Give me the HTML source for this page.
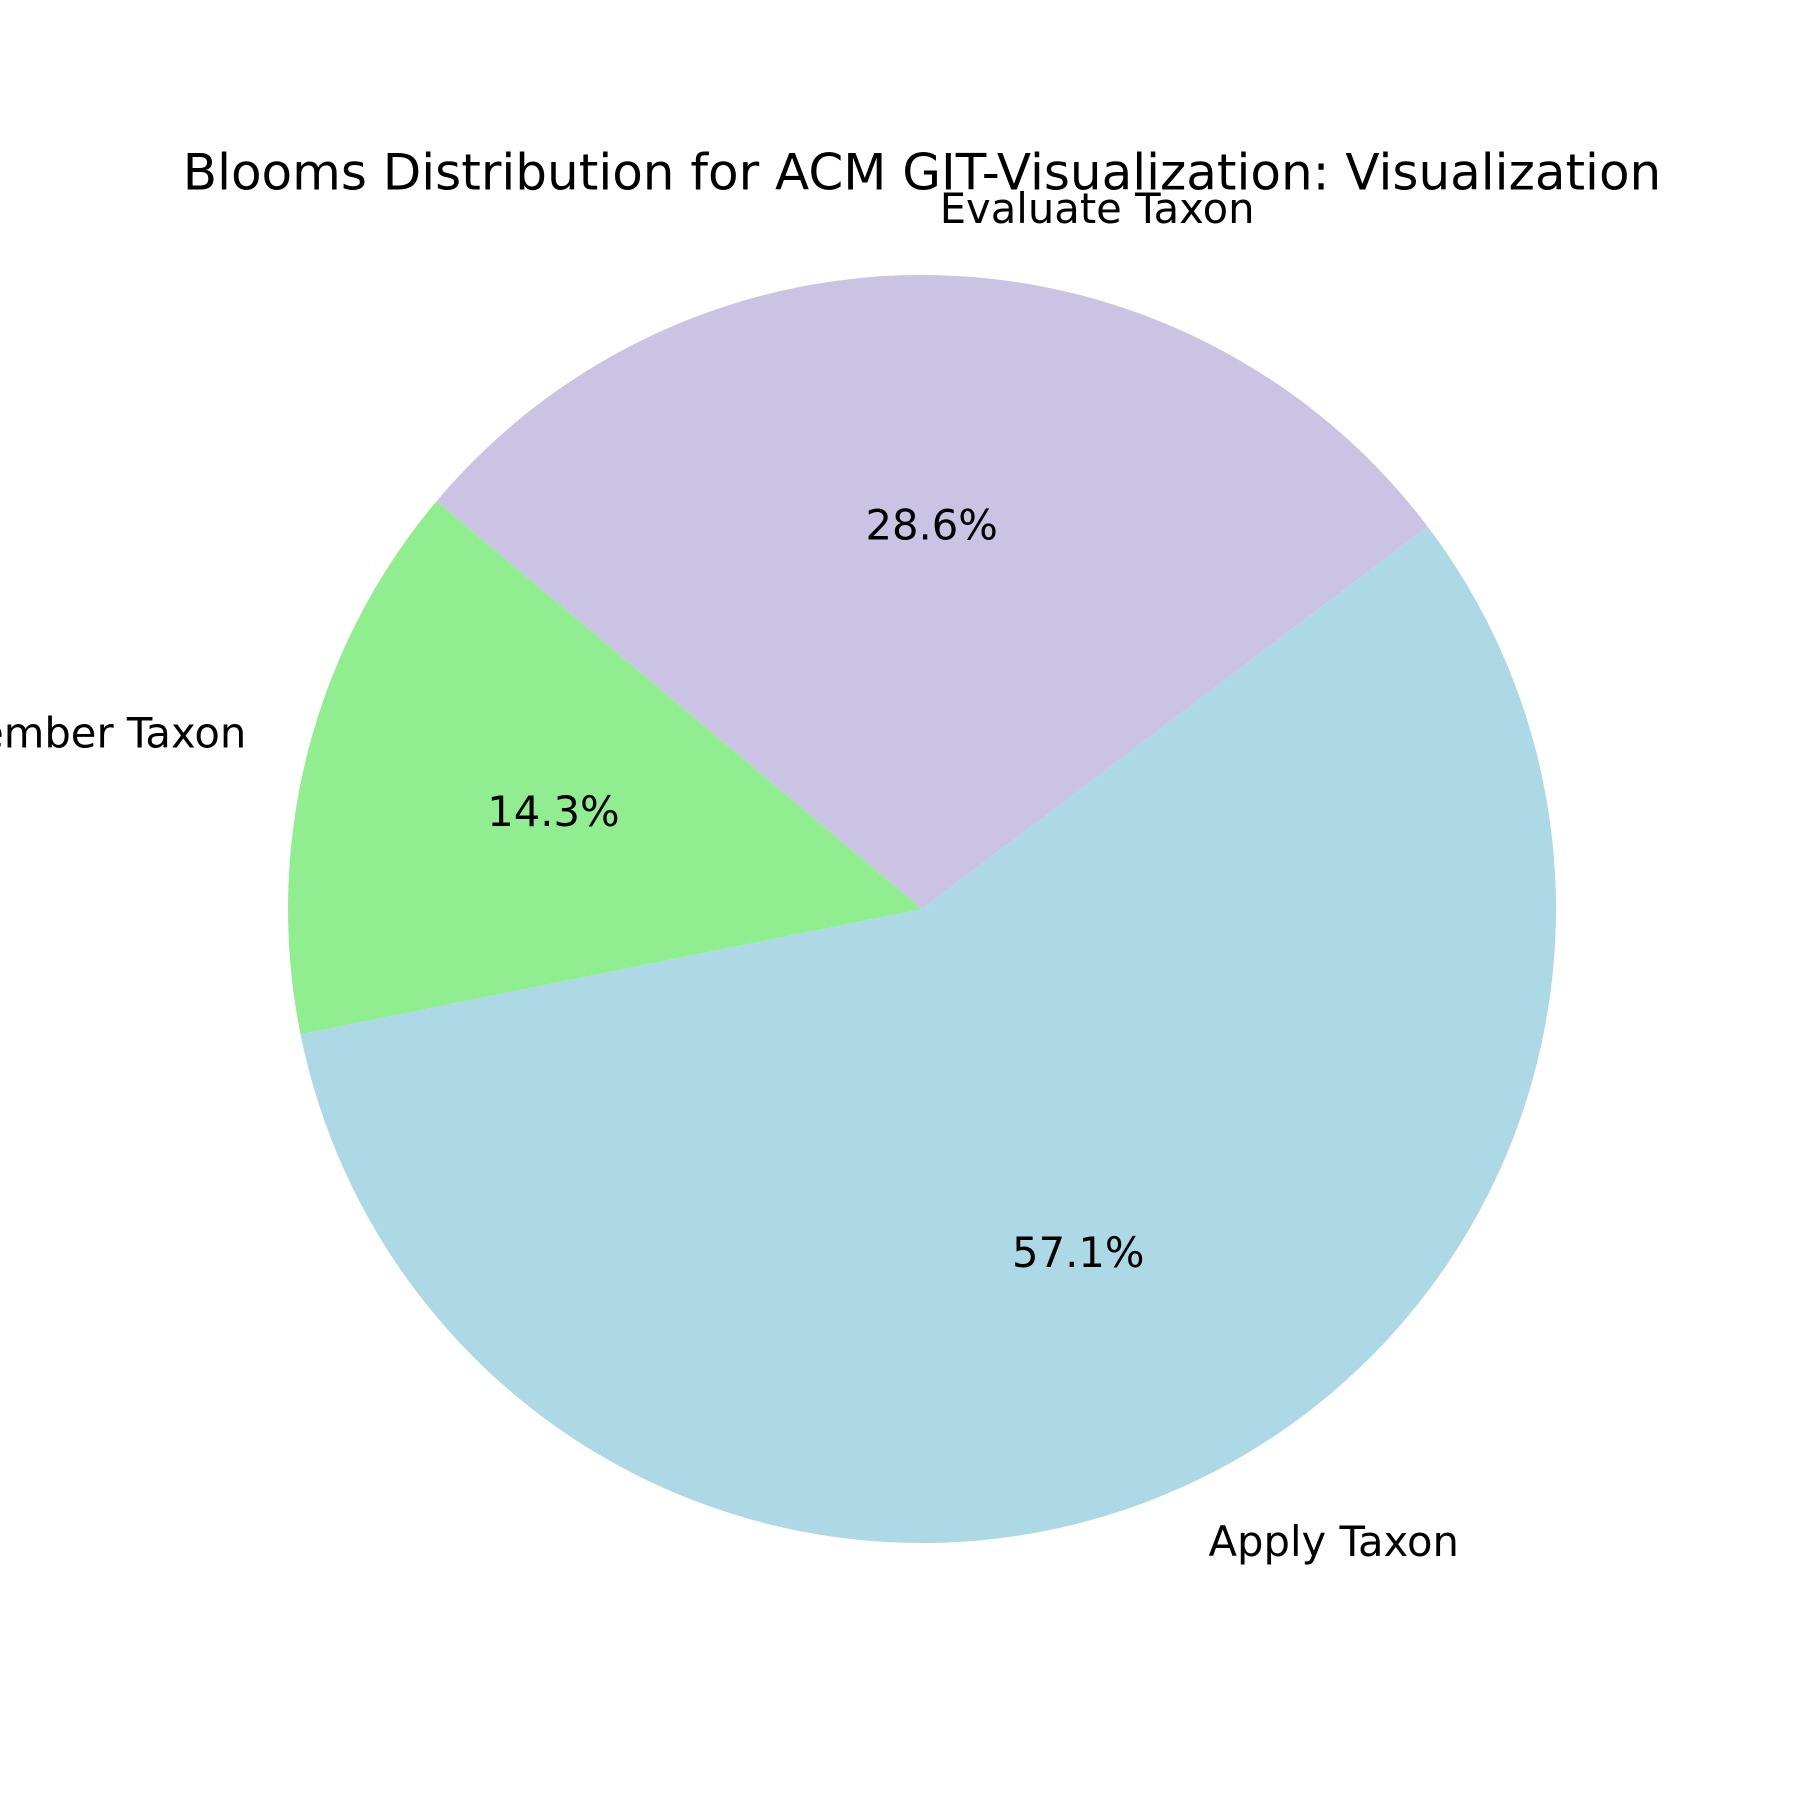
<!DOCTYPE html>
<html><head><meta charset="utf-8"><style>
html,body{margin:0;padding:0;background:#fff;width:1800px;height:1800px;overflow:hidden}
svg text{font-family:"DejaVu Sans","Liberation Sans",sans-serif;fill:#000}
</style></head><body>
<svg id="chart" width="1800" height="1800" viewBox="0 0 1800 1800" xmlns="http://www.w3.org/2000/svg">
<rect width="1800" height="1800" fill="#fff"/>
<text x="922" y="176" font-size="50" text-anchor="middle" dominant-baseline="middle">Blooms Distribution for ACM GIT-Visualization: Visualization</text>
<g id="slices"></g>
</svg>
<script>
const categories = ["Apply Taxon", "Evaluate Taxon", "Remember Taxon"];
const values = [4, 2, 1];
const sliceColors = ["#add8e6", "#cbc3e3", "#90ee90"];
const startAngle = 191.4;
const cx = 922, cy = 909, R = 634;
const ns = "http://www.w3.org/2000/svg";
const g = document.getElementById("slices");
const total = values.reduce((a, b) => a + b, 0);
function pt(deg, r) { const a = deg * Math.PI / 180; return [cx + r * Math.cos(a), cy - r * Math.sin(a)]; }
let ang = startAngle;
const texts = [];
values.forEach((v, i) => {
  const sweep = v / total * 360;
  const a0 = ang, a1 = ang + sweep;
  const p0 = pt(a0, R), p1 = pt(a1, R);
  const large = sweep > 180 ? 1 : 0;
  const path = document.createElementNS(ns, "path");
  path.setAttribute("d", `M${cx},${cy} L${p0[0]},${p0[1]} A${R},${R} 0 ${large} 0 ${p1[0]},${p1[1]} Z`);
  path.setAttribute("fill", sliceColors[i]);
  
  
  g.appendChild(path);
  const mid = (a0 + a1) / 2;
  const lp = pt(mid, 1.1 * R);
  const lbl = document.createElementNS(ns, "text");
  lbl.setAttribute("x", lp[0]); lbl.setAttribute("y", lp[1]);
  lbl.setAttribute("font-size", "41.7");
  lbl.setAttribute("dominant-baseline", "middle");
  lbl.setAttribute("text-anchor", Math.cos(mid * Math.PI / 180) >= 0 ? "start" : "end");
  lbl.textContent = categories[i];
  
  
  texts.push(lbl);
  const pp = pt(mid, 0.6 * R);
  const pct = document.createElementNS(ns, "text");
  pct.setAttribute("x", pp[0]); pct.setAttribute("y", pp[1]);
  pct.setAttribute("font-size", "41.7");
  pct.setAttribute("dominant-baseline", "middle");
  pct.setAttribute("text-anchor", "middle");
  pct.textContent = (v / total * 100).toFixed(1) + "%";
  
  
  texts.push(pct);
  ang = a1;
});
texts.forEach(t => g.appendChild(t));
</script>
</body></html>
